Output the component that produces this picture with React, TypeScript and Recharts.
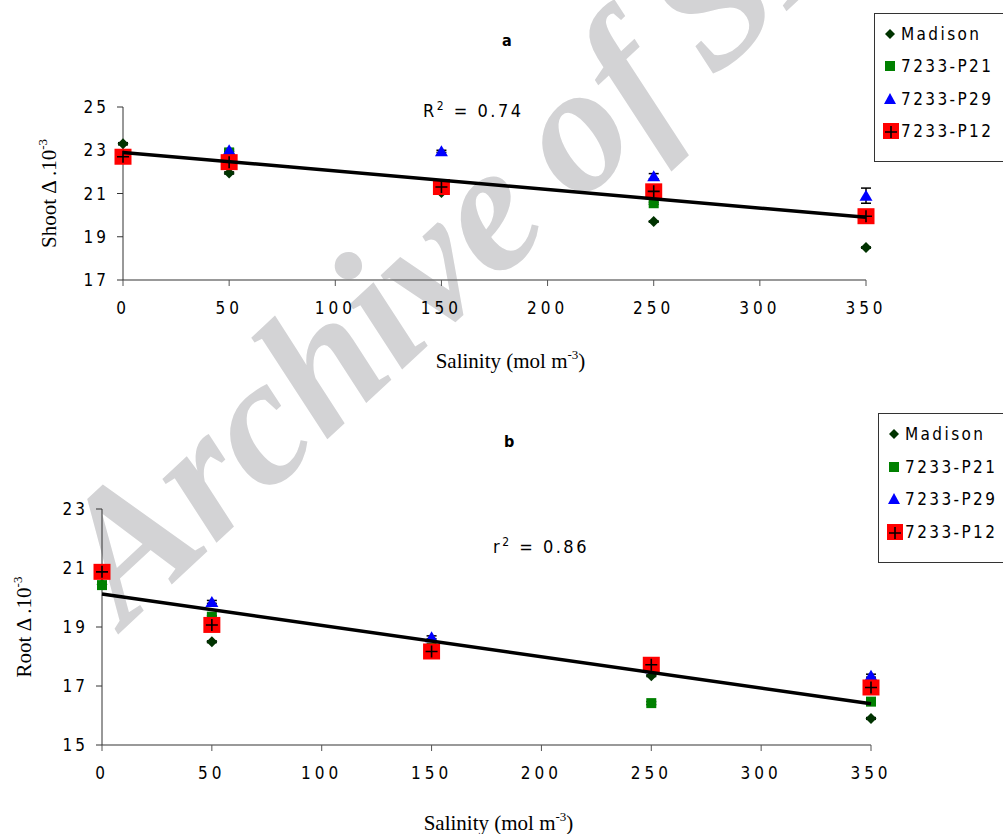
import React from "react";
import {
    ComposedChart,
    Scatter,
    XAxis,
    YAxis,
    ErrorBar,
} from "recharts";

// salinity levels (mol m-3)
const SALINITY = [0, 50, 150, 250, 350];
const X_TICKS = [0, 50, 100, 150, 200, 250, 300, 350];

// shoot carbon isotope discrimination (x10-3)
const MADISON_SHOOT = [23.3, 21.95, 21.05, 19.7, 18.5];
const P21_SHOOT = [22.6, 22.9, 21.2, 20.55, 20.0];
const P29_SHOOT = [22.8, 23.0, 22.95, 21.8, 20.9];
const P12_SHOOT = [22.7, 22.45, 21.3, 21.1, 19.95];
const MADISON_SHOOT_ERR = [0.05, 0.05, 0.03, 0.03, 0.03];
const P21_SHOOT_ERR = [0.05, 0.05, 0.03, 0.05, 0.05];
const P29_SHOOT_ERR = [0.05, 0.05, 0.05, 0.12, 0.35];
const P12_SHOOT_ERR = [0.05, 0.05, 0.05, 0.05, 0.05];
const SHOOT_TREND_X = [0, 350];
const SHOOT_TREND_Y = [22.9, 19.9];
const SHOOT_TICKS = [17, 19, 21, 23, 25];

// root carbon isotope discrimination (x10-3)
const MADISON_ROOT = [20.45, 18.5, 18.1, 17.35, 15.9];
const P21_ROOT = [20.42, 19.35, 18.3, 16.42, 16.47];
const P29_ROOT = [20.8, 19.85, 18.65, 17.6, 17.35];
const P12_ROOT = [20.87, 19.07, 18.17, 17.72, 16.95];
const MADISON_ROOT_ERR = [0.03, 0.03, 0.03, 0.03, 0.03];
const P21_ROOT_ERR = [0.05, 0.03, 0.03, 0.05, 0.05];
const P29_ROOT_ERR = [0.03, 0.05, 0.05, 0.03, 0.05];
const P12_ROOT_ERR = [0.03, 0.03, 0.03, 0.03, 0.03];
const ROOT_TREND_X = [0, 350];
const ROOT_TREND_Y = [20.12, 16.4];
const ROOT_TICKS = [15, 17, 19, 21, 23];

const GENOTYPES = ["Madison", "7233-P21", "7233-P29", "7233-P12"];

const NARROW = "'Liberation Sans Narrow', 'DejaVu Sans Condensed', 'Liberation Sans', Arial, sans-serif";
const SERIF = "'Liberation Serif', 'Times New Roman', serif";

const toPoints = (xs: number[], ys: number[], errs?: number[]) =>
    xs.map((x, i) => ({ x, y: ys[i], err: errs ? errs[i] : 0 }));

const Diamond = ({ cx, cy }: any) => (
    <path d={`M${cx},${cy - 5.5} L${cx + 5.5},${cy} L${cx},${cy + 5.5} L${cx - 5.5},${cy} Z`} fill="#003300" />
);
const GreenSquare = ({ cx, cy }: any) => (
    <rect x={cx - 5} y={cy - 5} width={10} height={10} fill="#008000" />
);
const Triangle = ({ cx, cy }: any) => (
    <path d={`M${cx},${cy - 6} L${cx + 6.5},${cy + 5} L${cx - 6.5},${cy + 5} Z`} fill="#0000ff" />
);
const RedPlus = ({ cx, cy }: any) => (
    <g>
        <rect x={cx - 8.5} y={cy - 8} width={17} height={16} fill="#ff0000" />
        <path d={`M${cx - 6},${cy} L${cx + 6},${cy} M${cx},${cy - 6} L${cx},${cy + 6}`} stroke="#000" strokeWidth={1.6} />
    </g>
);
const NoShape = () => <g />;

const SHAPES = [Diamond, GreenSquare, Triangle, RedPlus];

const LegendBox = ({ left, top, height }: { left: number; top: number; height: number }) => {
    const icons = [
        <svg width="14" height="14" key="d"><path d="M7,2 L12,7 L7,12 L2,7 Z" fill="#003300" /></svg>,
        <svg width="14" height="14" key="s"><rect x="2" y="2" width="10" height="10" fill="#008000" /></svg>,
        <svg width="14" height="14" key="t"><path d="M7,1 L13,12 L1,12 Z" fill="#0000ff" /></svg>,
        <svg width="16" height="16" key="p">
            <rect x="0" y="0" width="16" height="16" fill="#ff0000" />
            <path d="M2,9 L14,9 M8,3 L8,15" stroke="#000" strokeWidth="1.6" />
        </svg>,
    ];
    return (
        <div
            style={{
                position: "absolute",
                left,
                top,
                width: 150,
                height,
                border: "1px solid #333",
                background: "#fff",
                boxSizing: "border-box",
            }}
        >
            {GENOTYPES.map((g, i) => (
                <div
                    key={g}
                    style={{
                        position: "absolute",
                        left: 8,
                        top: 8 + i * ((height - 20) / 4),
                        height: 24,
                        display: "flex",
                        alignItems: "center",
                        fontFamily: NARROW,
                        fontSize: 17,
                        letterSpacing: 2.4,
                        color: "#000",
                        whiteSpace: "nowrap",
                    }}
                >
                    <span style={{ width: 18, display: "inline-flex", justifyContent: "flex-start" }}>{icons[i]}</span>
                    {g}
                </div>
            ))}
        </div>
    );
};

const YLabel = ({ cx, cy, name }: { cx: number; cy: number; name: string }) => (
    <text
        x={cx}
        y={cy}
        transform={`rotate(-90 ${cx} ${cy})`}
        textAnchor="middle"
        fontFamily={SERIF}
        fontSize={21}
        fill="#000"
    >
        {name} Δ .10
        <tspan dy={-9} fontSize={13}>-3</tspan>
    </text>
);

const XLabel = ({ cx, y }: { cx: number; y: number }) => (
    <text x={cx} y={y} textAnchor="middle" fontFamily={SERIF} fontSize={21} fill="#000">
        Salinity (mol m
        <tspan dy={-9} fontSize={13}>-3</tspan>
        <tspan dy={9}>)</tspan>
    </text>
);

interface PanelProps {
    top: number;
    height: number;
    plotTop: number;
    plotBottom: number;
    plotLeft: number;
    plotRight: number;
    yTicks: number[];
    series: { ys: number[]; errs: number[] }[];
    trendX: number[];
    trendY: number[];
    yName: string;
    yLabelX: number;
    xLabelShift: number;
    xLabelGap: number;
}

const Panel = (p: PanelProps) => {
    const width = 1003;
    return (
        <div style={{ position: "absolute", left: 0, top: p.top }}>
            <ComposedChart
                width={width}
                height={p.height}
                margin={{ top: p.plotTop, right: width - p.plotRight, left: 0, bottom: p.height - p.plotBottom - 30 }}
            >
                <XAxis
                    type="number"
                    dataKey="x"
                    domain={[0, 350]}
                    ticks={X_TICKS}
                    height={30}
                    tickSize={6}
                    tickMargin={16}
                    axisLine={{ stroke: "#777", strokeWidth: 1.5 }}
                    tickLine={{ stroke: "#555" }}
                    tick={{ fill: "#000", fontSize: 17, fontFamily: NARROW, letterSpacing: 4 }}
                    label={{
                        content: ({ viewBox }: any) => (
                            <XLabel cx={viewBox.x + viewBox.width / 2 + p.xLabelShift} y={viewBox.y + p.xLabelGap} />
                        ),
                    }}
                />
                <YAxis
                    type="number"
                    dataKey="y"
                    domain={[p.yTicks[0], p.yTicks[p.yTicks.length - 1]]}
                    ticks={p.yTicks}
                    width={p.plotLeft}
                    tickSize={6}
                    tickMargin={8}
                    axisLine={{ stroke: "#333" }}
                    tickLine={{ stroke: "#333" }}
                    tick={{ fill: "#000", fontSize: 17, fontFamily: NARROW, letterSpacing: 3 }}
                    label={{
                        content: ({ viewBox }: any) => (
                            <YLabel cx={p.yLabelX} cy={viewBox.y + viewBox.height / 2} name={p.yName} />
                        ),
                    }}
                />
                {p.series.map((s, i) => {
                    const Shape = SHAPES[i];
                    return (
                        <Scatter
                            key={GENOTYPES[i]}
                            name={GENOTYPES[i]}
                            data={toPoints(SALINITY, s.ys, s.errs)}
                            shape={(props: any) => <Shape cx={props.cx} cy={props.cy} />}
                            isAnimationActive={false}
                        >
                            <ErrorBar dataKey="err" direction="y" width={5} stroke="#000" strokeWidth={1.5} />
                        </Scatter>
                    );
                })}
                <Scatter
                    name="trend"
                    data={toPoints(p.trendX, p.trendY)}
                    line={{ stroke: "#000", strokeWidth: 3.5 }}
                    shape={NoShape}
                    isAnimationActive={false}
                />
            </ComposedChart>
        </div>
    );
};

const textStyle: React.CSSProperties = {
    position: "absolute",
    fontFamily: NARROW,
    color: "#000",
    whiteSpace: "nowrap",
};

export default function App() {
    return (
        <div
            style={{
                position: "absolute",
                left: 0,
                top: 0,
                width: 1003,
                height: 834,
                overflow: "hidden",
                background: "#fff",
            }}
        >
            {/* watermark behind the charts */}
            <svg width={1003} height={834} style={{ position: "absolute", left: 0, top: 0 }}>
                <text
                    x={125}
                    y={628}
                    transform="rotate(-43 125 628)"
                    fontFamily={SERIF}
                    fontStyle="italic"
                    fontWeight="bold"
                    fontSize={182}
                    wordSpacing={-12}
                    fill="#d3d3d5"
                >
                    Archive of SID
                </text>
            </svg>

            <Panel
                top={0}
                height={390}
                plotTop={107}
                plotBottom={280}
                plotLeft={123}
                plotRight={866}
                yTicks={SHOOT_TICKS}
                series={[
                    { ys: MADISON_SHOOT, errs: MADISON_SHOOT_ERR },
                    { ys: P21_SHOOT, errs: P21_SHOOT_ERR },
                    { ys: P29_SHOOT, errs: P29_SHOOT_ERR },
                    { ys: P12_SHOOT, errs: P12_SHOOT_ERR },
                ]}
                trendX={SHOOT_TREND_X}
                trendY={SHOOT_TREND_Y}
                yName="Shoot"
                yLabelX={56}
                xLabelShift={16}
                xLabelGap={88}
            />
            <Panel
                top={400}
                height={434}
                plotTop={109}
                plotBottom={345}
                plotLeft={102}
                plotRight={871}
                yTicks={ROOT_TICKS}
                series={[
                    { ys: MADISON_ROOT, errs: MADISON_ROOT_ERR },
                    { ys: P21_ROOT, errs: P21_ROOT_ERR },
                    { ys: P29_ROOT, errs: P29_ROOT_ERR },
                    { ys: P12_ROOT, errs: P12_ROOT_ERR },
                ]}
                trendX={ROOT_TREND_X}
                trendY={ROOT_TREND_Y}
                yName="Root"
                yLabelX={31}
                xLabelShift={12}
                xLabelGap={85}
            />

            <div style={{ ...textStyle, left: 502, top: 31, fontSize: 16, fontWeight: "bold" }}>a</div>
            <div style={{ ...textStyle, left: 504, top: 432, fontSize: 16, fontWeight: "bold" }}>b</div>

            <div style={{ ...textStyle, left: 423, top: 99, fontSize: 18, letterSpacing: 2.5 }}>
                R<sup style={{ fontSize: 12 }}>2</sup> = 0.74
            </div>
            <div style={{ ...textStyle, left: 493, top: 535, fontSize: 18, letterSpacing: 2.5 }}>
                r<sup style={{ fontSize: 12 }}>2</sup> = 0.86
            </div>

            <LegendBox left={874} top={13} height={149} />
            <LegendBox left={878} top={413} height={150} />
        </div>
    );
}
